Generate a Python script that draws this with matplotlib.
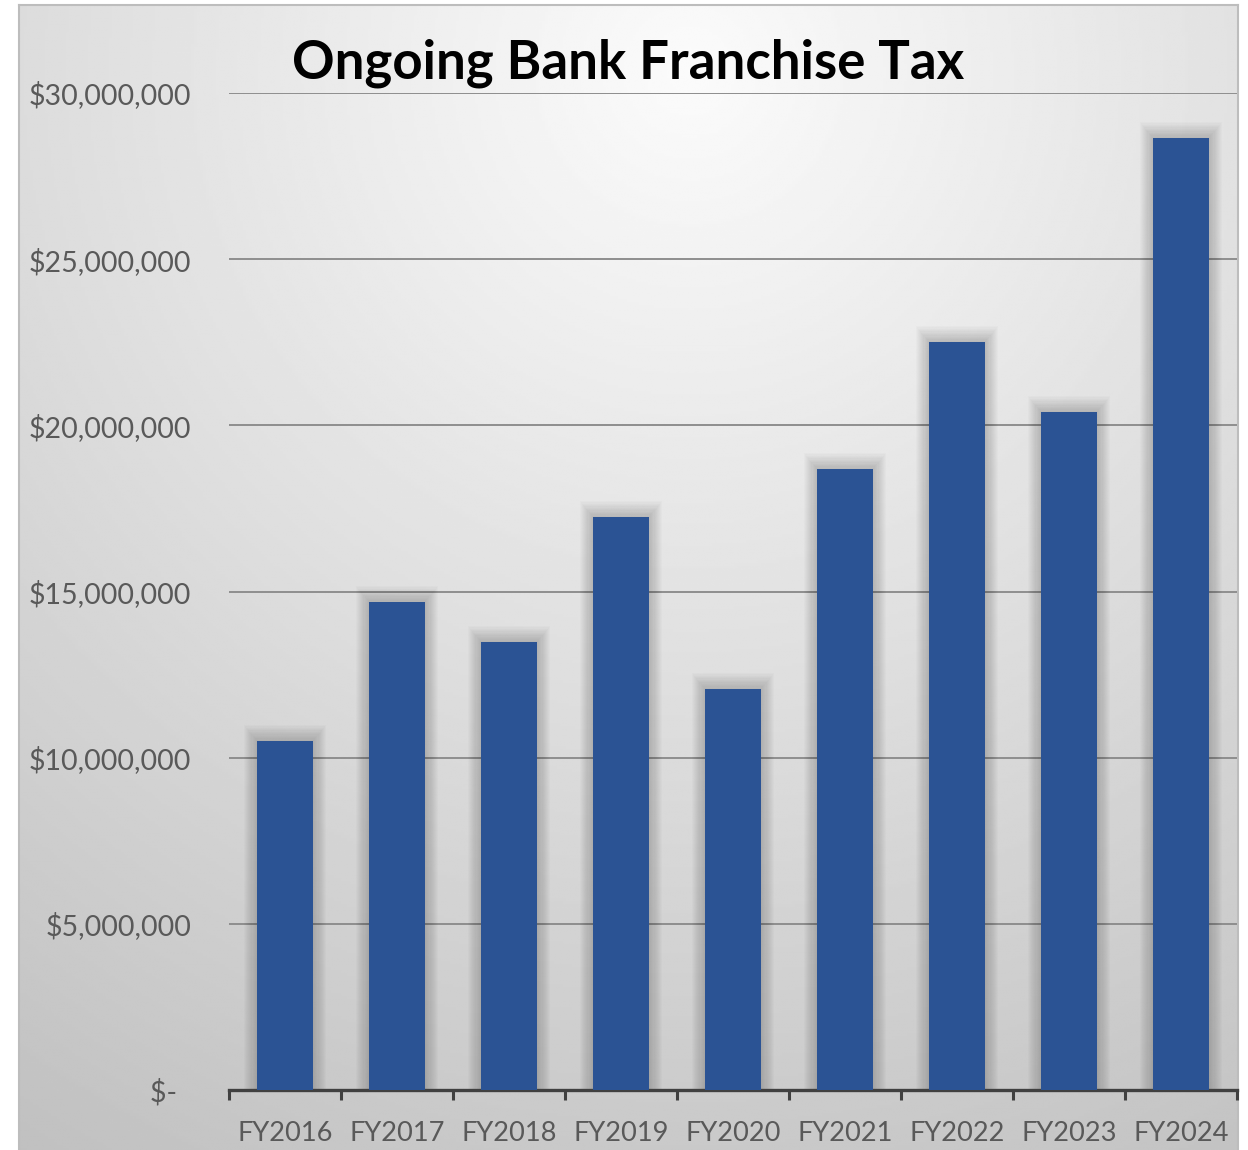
import numpy as np
import matplotlib.pyplot as plt
from matplotlib.ticker import FuncFormatter, FixedLocator

# Revenue by fiscal year
fiscal_years = ['FY2016', 'FY2017', 'FY2018', 'FY2019', 'FY2020',
                'FY2021', 'FY2022', 'FY2023', 'FY2024']
tax_revenue = [10.50e6, 14.69e6, 13.48e6, 17.24e6, 12.07e6,
               18.69e6, 22.51e6, 20.40e6, 28.65e6]
y_ticks = [0, 5e6, 10e6, 15e6, 20e6, 25e6, 30e6]

BAR_COLOR = '#2B5394'
TEXT_COLOR = '#595959'

W, H = 1248, 1150
fig = plt.figure(figsize=(W / 100, H / 100), dpi=100)
fig.patch.set_facecolor('white')


def px_box(x0, y0, x1, y1):
    """Convert a pixel box (top-left origin) to figure fractions."""
    return [x0 / W, 1 - y1 / H, (x1 - x0) / W, (y1 - y0) / H]


# Chart area with a soft radial fill
bg = fig.add_axes(px_box(19, 5, 1238, 1152), zorder=-2)
gx, gy = np.meshgrid(np.linspace(19, 1238, 400), np.linspace(5, 1152, 400))
dist = np.hypot(gx - 690, gy - 70)
shade = np.clip(0.985 - 0.20 * dist / 1100, 0, 1)
bg.imshow(shade, cmap='gray', vmin=0, vmax=1, aspect='auto',
          extent=(0, 1, 0, 1), interpolation='bilinear')
bg.set_xlim(0, 1)
bg.set_ylim(0, 1)
bg.set_xticks([])
bg.set_yticks([])
for s in bg.spines.values():
    s.set_color('#bdbdbd')
    s.set_linewidth(1.5)
bg.spines['bottom'].set_visible(False)

ax = fig.add_axes(px_box(229, 93, 1237, 1090))
ax.patch.set_alpha(0)
x = np.arange(len(fiscal_years))

# soft shadow around each bar
for k in range(1, 13):
    ax.bar(x, [v + k * 0.04e6 for v in tax_revenue], width=0.5 + k * 0.02,
           color='black', alpha=0.016, linewidth=0, zorder=1)
ax.bar(x, tax_revenue, width=0.5, color=BAR_COLOR, linewidth=0, zorder=3)

ax.set_xlim(-0.5, len(fiscal_years) - 0.5)
ax.set_ylim(0, 30e6)
ax.set_yticks(y_ticks)
ax.yaxis.set_major_formatter(FuncFormatter(
    lambda v, _: '$-  ' if v == 0 else f'${v:,.0f}'))
ax.grid(axis='y', color='#8e8e8e', linewidth=1.4, zorder=0)
ax.set_axisbelow(True)

ax.set_xticks(x)
ax.set_xticklabels(fiscal_years)
ax.xaxis.set_minor_locator(FixedLocator(np.arange(-0.5, len(fiscal_years), 1)))
ax.tick_params(axis='x', which='major', length=0, pad=22,
               labelsize=19.6, labelcolor=TEXT_COLOR)
ax.tick_params(axis='x', which='minor', length=7, width=2.2,
               color='#404040', direction='out')
ax.tick_params(axis='y', length=0, pad=27, labelsize=20.5, labelcolor=TEXT_COLOR)
for lbl in ax.get_xticklabels() + ax.get_yticklabels():
    lbl.set_fontfamily('Lato')

for side in ['top', 'right', 'left']:
    ax.spines[side].set_visible(False)
ax.spines['bottom'].set_color('#404040')
ax.spines['bottom'].set_linewidth(2.4)

fig.text(628 / W, 1 - 63 / H, 'Ongoing Bank Franchise Tax', ha='center',
         va='center', fontsize=38, fontweight='bold', family='Lato', color='black')

fig.savefig('out.png', dpi=100, facecolor='white')
